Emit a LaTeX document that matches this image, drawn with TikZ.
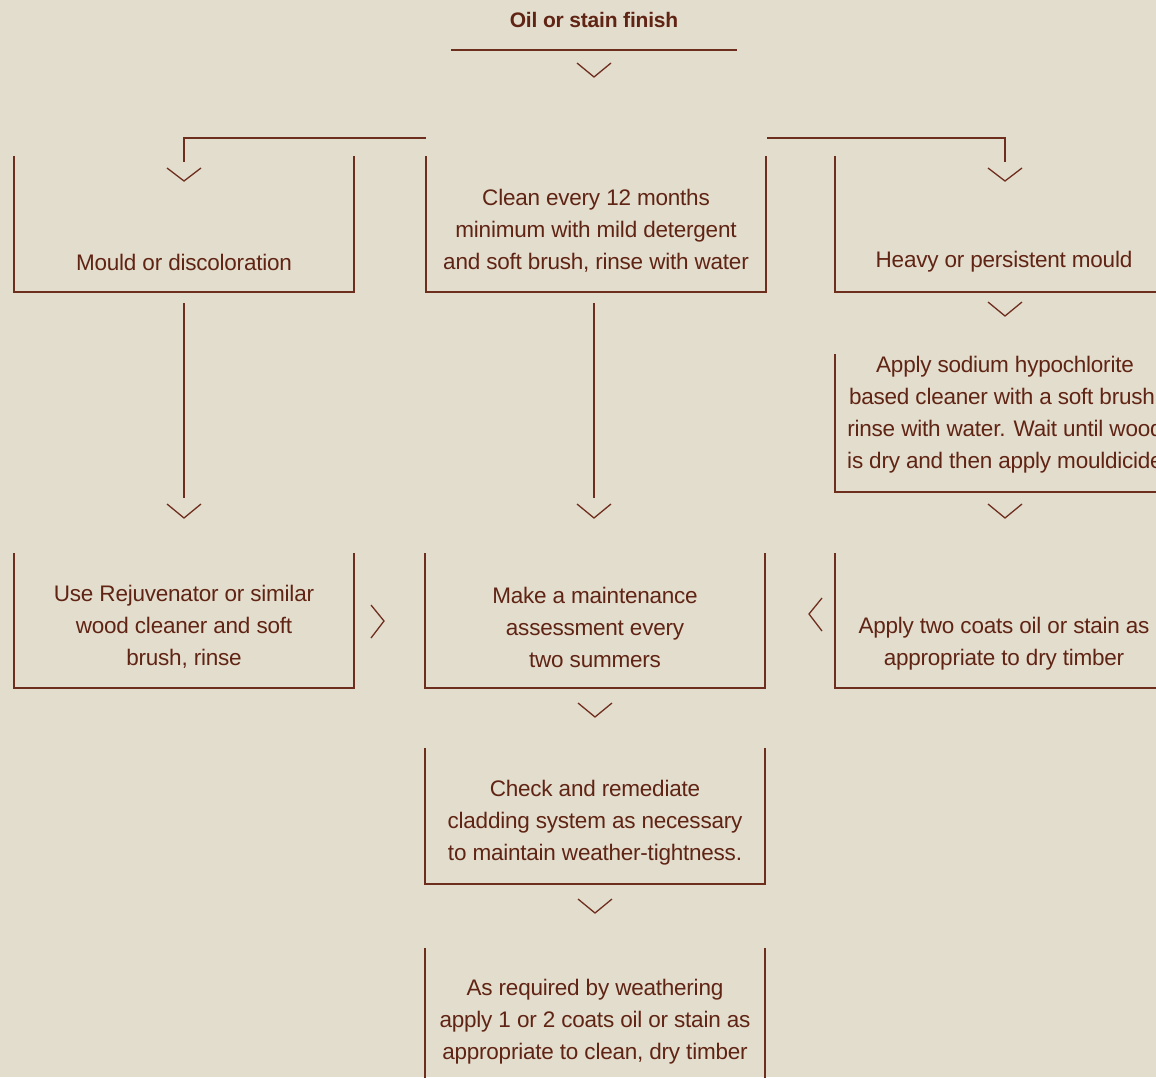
\documentclass[tikz,border=0pt]{standalone}
\usepackage{fontspec}
\setmainfont{Liberation Sans}[LetterSpace=-1]
\definecolor{bg}{RGB}{227,221,205}
\definecolor{ink}{RGB}{96,36,20}
\definecolor{rule}{RGB}{110,46,30}
\begin{document}
\begin{tikzpicture}[x=1pt,y=-1pt,
  line/.style={draw=rule,line width=1.3pt},
  chev/.style={draw=rule,line width=1.3pt},
  ubox/.style={minimum width=340pt,minimum height=136pt,inner sep=0pt,outer sep=0pt},
  txt/.style={text=ink,align=center,font=\fontsize{22.5}{32}\selectfont,inner sep=0pt}]
\fill[bg] (0,0) rectangle (1156,1077);
\useasboundingbox (0,0) rectangle (1156,1077);
% title
\node[text=ink,font=\fontsize{21}{26}\bfseries\selectfont,inner sep=0pt] (title) at (594,20) {Oil or stain finish};
\coordinate (tl) at (451,50);
\coordinate (tr) at (737,50);
\draw[line] (tl) -- (tr);
\draw[chev] (577,63) -- (594,77) -- (611,63);
% box frames (open at top)
\node[ubox] (b1) at (184,224) {};
\node[ubox] (b2) at (596,224) {};
\node[ubox] (b3) at (1005,224) {};
\node[ubox,minimum height=138pt] (b4) at (1005,423) {};
\node[ubox,minimum height=135pt] (b5) at (184,620.5) {};
\node[ubox,minimum height=135pt] (b6) at (595,620.5) {};
\node[ubox,minimum height=135pt] (b7) at (1005,620.5) {};
\node[ubox] (b8) at (595,816) {};
\node[ubox] (b9) at (595,1016) {};
\foreach \n in {b1,b2,b3,b4,b5,b6,b7,b8,b9}
  \draw[line] (\n.north west) |- (\n.south east) -- (\n.north east);
% texts
\node[txt] (t1) at (184,262) {Mould or discoloration};
\node[txt] (t2) at (596,231) {Clean every 12 months\\minimum with mild detergent\\and soft brush, rinse with water};
\node[txt] (t3) at (1004,262) {Heavy or persistent mould};
\node[txt] (t4) at (1005,415) {Apply sodium hypochlorite\\based cleaner with a soft brush,\\rinse with water. Wait until wood\\is dry and then apply mouldicide};
\node[txt] (t5) at (184,627) {Use Rejuvenator or similar\\wood cleaner and soft\\brush, rinse};
\node[txt] (t6) at (595,627) {Make a maintenance\\assessment every\\two summers};
\node[txt] (t7) at (1004,644) {Apply two coats oil or stain as\\appropriate to dry timber};
\node[txt] (t8) at (595,823) {Check and remediate\\cladding system as necessary\\to maintain weather-tightness.};
\node[txt] (t9) at (595,1022) {As required by weathering\\apply 1 or 2 coats oil or stain as\\appropriate to clean, dry timber};
% branches from top
\coordinate (bl) at (426,138);
\coordinate (br) at (767,138);
\coordinate (el) at (184,162);
\coordinate (er) at (1005,162);
\draw[line] (bl) -| (el);
\draw[line] (br) -| (er);
\draw[chev] (167,168) -- (184,181) -- (201,168);
\draw[chev] (988,168) -- (1005,181) -- (1022,168);
% vertical connectors
\coordinate (v1a) at (184,303); \coordinate (v1b) at (184,498);
\coordinate (v2a) at (594,303); \coordinate (v2b) at (594,498);
\draw[line] (v1a) -- (v1b);
\draw[line] (v2a) -- (v2b);
\draw[chev] (167,504) -- (184,518) -- (201,504);
\draw[chev] (577,504) -- (594,518) -- (611,504);
% right column chevrons
\draw[chev] (988,302) -- (1005,316) -- (1022,302);
\draw[chev] (988,504) -- (1005,518) -- (1022,504);
% side chevrons
\draw[chev] (371,605) -- (384,621) -- (371,638);
\draw[chev] (822,598) -- (809,614) -- (822,631);
% lower chevrons
\draw[chev] (578,703) -- (595,717) -- (612,703);
\draw[chev] (578,899) -- (595,913) -- (612,899);
\end{tikzpicture}
\end{document}
